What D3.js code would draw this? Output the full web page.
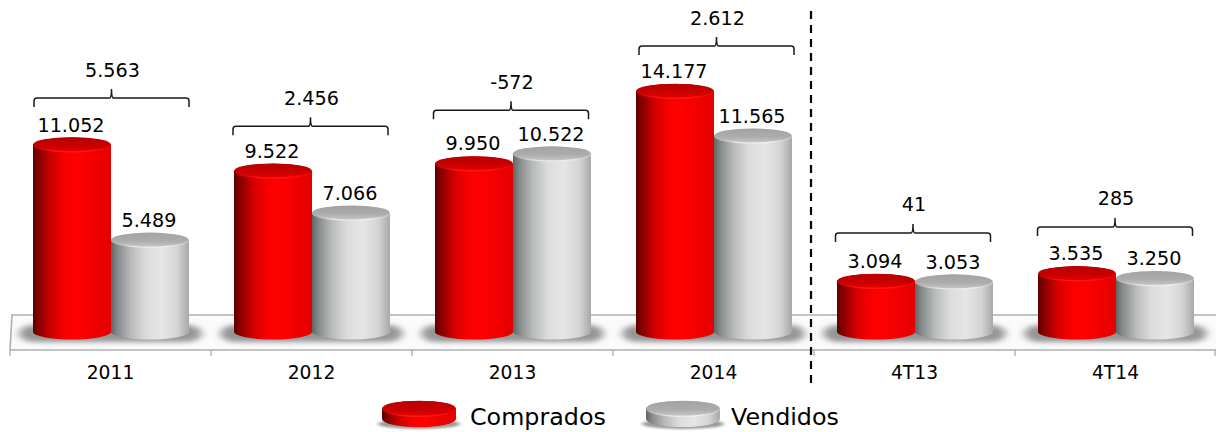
<!DOCTYPE html>
<html><head><meta charset="utf-8">
<script src="https://cdn.jsdelivr.net/npm/d3@7"></script>
<style>html,body{margin:0;padding:0;background:#fff}svg{display:block}text{font-family:"DejaVu Sans",Verdana,sans-serif;fill:#000}</style>
</head><body><svg id="c" width="1216" height="432"></svg>
<script>
const categories = ["2011","2012","2013","2014","4T13","4T14"];
const seriesNames = ["Comprados","Vendidos"];
const comprados = [11052,9522,9950,14177,3094,3535];
const vendidos = [5489,7066,10522,11565,3053,3250];
const differences = ["5.563","2.456","-572","2.612","41","285"];
const valueLabelsC = ["11.052","9.522","9.950","14.177","3.094","3.535"];
const valueLabelsV = ["5.489","7.066","10.522","11.565","3.053","3.250"];

// hand placement of the brackets, which do not sit exactly on the bars
const bracketDx = [0.5,-1.5,-2,2.5,-2,-1];
const bracketDy = [-1,1,2,0.5,-2.5,-1];

const svg = d3.select("#c");
const defs = svg.append("defs");
function grad(id, stops){
  const g = defs.append("linearGradient").attr("id",id).attr("x1",0).attr("x2",1).attr("y1",0).attr("y2",0);
  stops.forEach(s=>g.append("stop").attr("offset",s[0]).attr("stop-color",s[1]));
}
function vgrad(id, stops){
  const g = defs.append("linearGradient").attr("id",id).attr("x1",0).attr("x2",0).attr("y1",0).attr("y2",1);
  stops.forEach(s=>g.append("stop").attr("offset",s[0]).attr("stop-color",s[1]));
}
grad("body0",[[0,"#5e0000"],[.08,"#8a0000"],[.25,"#d40000"],[.42,"#f80000"],[.55,"#ff0000"],[.75,"#f40000"],[1,"#e40000"]]);
grad("body1",[[0,"#5f6565"],[.08,"#858989"],[.25,"#b8baba"],[.45,"#dcdcdc"],[.65,"#e6e6e6"],[.85,"#d4d4d4"],[1,"#a8a8a8"]]);
grad("rim0",[[0,"#c00000"],[.3,"#ff1414"],[.7,"#ff1414"],[1,"#ee0000"]]);
grad("rim1",[[0,"#a8a8a8"],[.3,"#e4e4e4"],[.7,"#f0f0f0"],[1,"#c8c8c8"]]);
vgrad("top0",[[0,"#b80000"],[.6,"#c80000"],[1,"#e40000"]]);
vgrad("top1",[[0,"#a2a2a2"],[.6,"#acacac"],[1,"#c4c4c4"]]);
const blur = defs.append("filter").attr("id","blur").attr("x","-20%").attr("y","-100%").attr("width","140%").attr("height","300%");
blur.append("feGaussianBlur").attr("stdDeviation","4 2.5");
const blur2 = defs.append("filter").attr("id","blur2").attr("x","-20%").attr("y","-100%").attr("width","140%").attr("height","300%");
blur2.append("feGaussianBlur").attr("stdDeviation","2 1");

const x = d3.scaleBand().domain(categories).range([10,1216]);
const inner = d3.scaleBand().domain(seriesNames).range([23,179]);
const y = d3.scaleLinear().domain([0,15000]).range([334.5,77.4]);
const baseY = 332;
const rx = inner.bandwidth()/2, ry = 7.5;

// floor
svg.append("path").attr("d","M12,315H1216V350H10Z").attr("fill","#fbfbfb").attr("stroke","none");
svg.append("path").attr("d","M1216,315H12L10,350H1216").attr("fill","none").attr("stroke","#b0b0b0").attr("stroke-width",1.6);

// shadows
svg.append("g").selectAll("rect").data(categories).join("rect")
  .attr("x",d=>x(d)+x.bandwidth()/2-91).attr("width",182).attr("y",325).attr("height",17).attr("rx",14)
  .attr("fill","#969696").attr("filter","url(#blur)");

// axis
const axis = d3.axisBottom(x).tickSize(0).tickPadding(16);
const ag = svg.append("g").attr("transform","translate(0,350)").call(axis);
ag.select(".domain").remove();
ag.selectAll("text").attr("font-size",18.7).style("font-family",'"DejaVu Sans"').attr("fill","#000");
svg.append("g").selectAll("line").data([...categories.map(c=>x(c)),x.range()[1]-1]).join("line")
  .attr("x1",d=>d).attr("x2",d=>d).attr("y1",350).attr("y2",356).attr("stroke","#b0b0b0").attr("stroke-width",1.4);

function cylinder(g, cx, topY, botY, rxx, ryy, i){
  const left = cx-rxx, right = cx+rxx;
  g.append("path")
    .attr("d",`M${left},${topY}V${botY}A${rxx},${ryy} 0 0 0 ${right},${botY}V${topY}A${rxx},${ryy} 0 0 0 ${left},${topY}Z`)
    .attr("fill",`url(#body${i})`);
  g.append("ellipse").attr("cx",cx).attr("cy",topY).attr("rx",rxx).attr("ry",ryy).attr("fill",`url(#rim${i})`);
  g.append("ellipse").attr("cx",cx).attr("cy",topY-0.9).attr("rx",rxx-0.5).attr("ry",ryy-0.6).attr("fill",`url(#top${i})`);
}

const seriesData = [comprados, vendidos];
const seriesLabels = [valueLabelsC, valueLabelsV];
[1,0].forEach(s=>{
  const g = svg.append("g");
  categories.forEach((c,k)=>{
    const cx = x(c)+inner(seriesNames[s])+rx;
    cylinder(g,cx,y(seriesData[s][k]),baseY,rx,ry,s);
    g.append("text").attr("x",cx-1).attr("y",y(seriesData[s][k])-ry-6)
      .attr("text-anchor","middle").attr("font-size",19.2).text(seriesLabels[s][k]);
  });
});

// brackets
categories.forEach((c,k)=>{
  const top = y(Math.max(comprados[k],vendidos[k]))-46+bracketDy[k];
  const l = x(c)+inner(seriesNames[0])+0.5+bracketDx[k], r = x(c)+inner(seriesNames[1])+inner.bandwidth()-0.5+bracketDx[k];
  const m = (l+r)/2, rr = 3;
  svg.append("path").attr("fill","none").attr("stroke","#1a1a1a").attr("stroke-width",1.5)
    .attr("d",`M${l},${top+9}V${top+rr}Q${l},${top} ${l+rr},${top}H${m-2}Q${m},${top} ${m},${top-9}Q${m},${top} ${m+2},${top}H${r-rr}Q${r},${top} ${r},${top+rr}V${top+9}`);
  svg.append("text").attr("x",m+1).attr("y",top-21.5).attr("text-anchor","middle").attr("font-size",19.2).text(differences[k]);
});

// separator
svg.append("line").attr("x1",811).attr("x2",811).attr("y1",11).attr("y2",383)
  .attr("stroke","#000").attr("stroke-width",2.2).attr("stroke-dasharray","8 6");

// legend
const legendX = d3.scaleOrdinal().domain(seriesNames).range([382,646]);
const legendTextX = d3.scaleOrdinal().domain(seriesNames).range([470,731]);
seriesNames.forEach((n,i)=>{
  const lx = legendX(n);
  const g = svg.append("g");
  g.append("ellipse").attr("cx",lx+37).attr("cy",424).attr("rx",41).attr("ry",5).attr("fill","#999").attr("filter","url(#blur2)");
  cylinder(g,lx+37,409,419,37,8,i);
  svg.append("text").attr("x",legendTextX(n)).attr("y",425).attr("font-size",23.8).text(n);
});
</script></body></html>
